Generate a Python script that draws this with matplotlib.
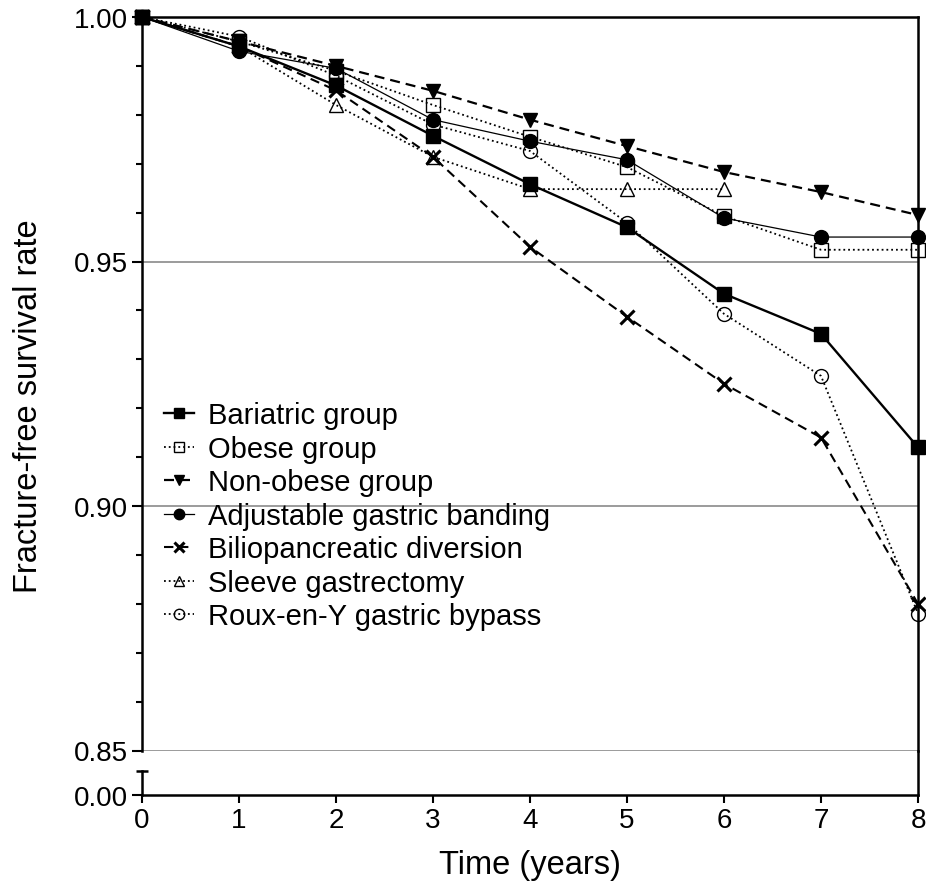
import numpy as np
import matplotlib
matplotlib.use("Agg")
import matplotlib.pyplot as plt
from matplotlib.ticker import MultipleLocator

plt.rcParams['font.family'] = ['Liberation Sans', 'DejaVu Sans']

# Données (taux de survie sans fracture)
years = [0, 1, 2, 3, 4, 5, 6, 7, 8]
bariatric = [1.000, 0.994, 0.986, 0.9757, 0.9658, 0.9570, 0.9434, 0.9352, 0.9120]
obese = [1.000, 0.995, 0.989, 0.9820, 0.9755, 0.9693, 0.9593, 0.9524, 0.9524]
non_obese = [1.000, 0.995, 0.990, 0.9849, 0.9790, 0.9736, 0.9683, 0.9642, 0.9595]
agb = [1.000, 0.993, 0.9895, 0.9790, 0.9746, 0.9708, 0.9589, 0.9550, 0.9550]
bpd = [1.000, 0.994, 0.985, 0.9714, 0.9530, 0.9387, 0.9250, 0.9140, 0.8800]
sleeve_years = [0, 1, 2, 3, 4, 5, 6]
sleeve = [1.000, 0.994, 0.982, 0.9714, 0.9648, 0.9648, 0.9648]
rygb = [1.000, 0.996, 0.988, 0.9780, 0.9726, 0.9579, 0.9393, 0.9266, 0.8780]

W, H = 926, 895
fig = plt.figure(figsize=(W / 100, H / 100), dpi=100)

x0, x1 = 142, 918
y_top, y_085, y_bot = 18, 751.5, 796
ax = fig.add_axes([x0 / W, 1 - y_085 / H, (x1 - x0) / W, (y_085 - y_top) / H])
axb = fig.add_axes([x0 / W, 1 - y_bot / H, (x1 - x0) / W, (y_bot - y_085) / H])

dash = (0, (4.5, 2.7))
series = [
    (years, bariatric, 'Bariatric group', dict(ls='-', lw=1.7, marker='s', mfc='black')),
    (years, obese, 'Obese group', dict(ls=':', lw=1.3, marker='s', mfc='none')),
    (years, non_obese, 'Non-obese group', dict(ls=dash, lw=1.6, marker='v', mfc='black')),
    (years, agb, 'Adjustable gastric banding', dict(ls='-', lw=0.9, marker='o', mfc='black')),
    (years, bpd, 'Biliopancreatic diversion', dict(ls=dash, lw=1.5, marker='x', mew=2.2)),
    (sleeve_years, sleeve, 'Sleeve gastrectomy', dict(ls=':', lw=1.3, marker='^', mfc='none')),
    (years, rygb, 'Roux-en-Y gastric bypass', dict(ls=':', lw=1.3, marker='o', mfc='none')),
]

for xs, ys, lab, st in series:
    st.setdefault('mew', 1.0)
    ax.plot(xs, ys, color='black', mec='black', ms=10, label=lab,
            clip_on=False, zorder=3, **st)

# Lignes horizontales grises
for yv in [0.85, 0.90, 0.95]:
    ax.axhline(yv, color='#808080', lw=1.1, zorder=1)

ax.set_xlim(0, 8)
ax.set_ylim(0.85, 1.00)
ax.yaxis.set_minor_locator(MultipleLocator(0.01))
ax.set_yticks([0.85, 0.90, 0.95, 1.00])
ax.set_yticklabels(['0.85', '0.90', '0.95', '1.00'])
ax.set_xticks([])
ax.spines['bottom'].set_visible(False)
for s in ['top', 'left', 'right']:
    ax.spines[s].set_linewidth(1.8)
ax.tick_params(axis='y', which='major', length=7, width=1.5, pad=3, labelsize=20)
ax.tick_params(axis='y', which='minor', length=4.5, width=1.5)

# Segment bas de l'axe (0.00)
axb.set_xlim(0, 8)
axb.set_ylim(0, 1)
axb.set_yticks([0])
axb.set_yticklabels(['0.00'])
axb.set_xticks(years)
axb.spines['top'].set_visible(False)
for s in ['bottom', 'left', 'right']:
    axb.spines[s].set_linewidth(1.8)
cap = (y_bot - 772) / (y_bot - y_085)
axb.spines['left'].set_bounds(0, cap)
axb.plot([0], [cap], marker='_', ms=9, mew=1.8, color='black', clip_on=False)
axb.tick_params(axis='y', length=7, width=1.5, pad=3, labelsize=20)
axb.tick_params(axis='x', length=5.5, width=1.5, pad=3, labelsize=20)
axb.patch.set_alpha(0)

ax.legend(loc='upper left', bbox_to_anchor=(-0.005, 0.512), frameon=False,
          fontsize=21, handlelength=1.0, handletextpad=0.48,
          labelspacing=0.19, numpoints=1, borderaxespad=0.5, markerscale=0.75)

fig.text(29 / W, 1 - 406 / H, 'Fracture-free survival rate', rotation=90,
         ha='center', va='center', fontsize=23.5)
fig.text(530 / W, 1 - 866 / H, 'Time (years)', ha='center', va='center',
         fontsize=23.5)

fig.savefig('out.png', dpi=100)
